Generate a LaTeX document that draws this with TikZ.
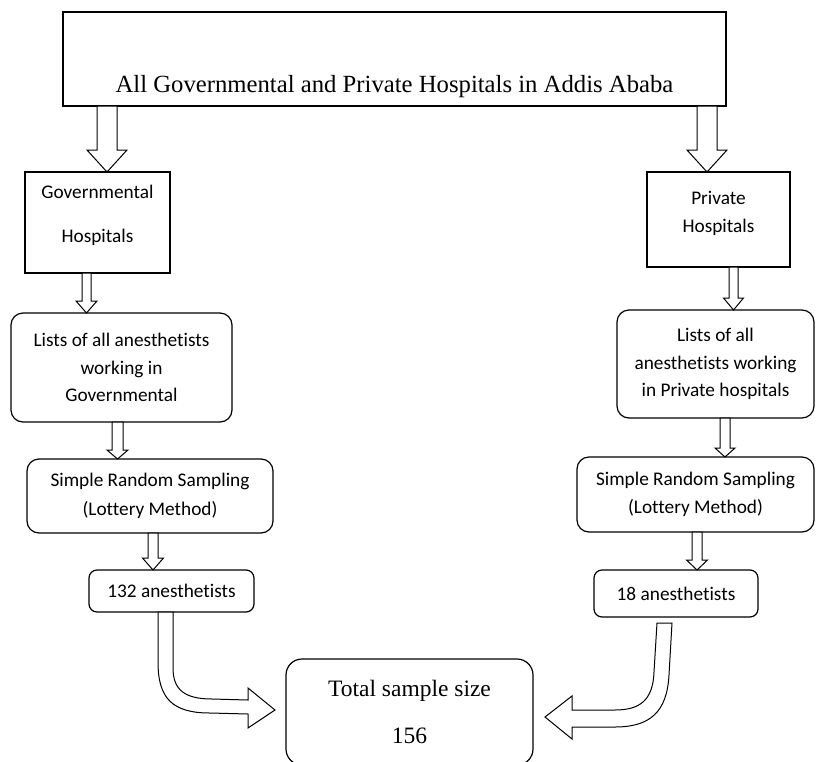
\documentclass[tikz,border=0pt]{standalone}
\usepackage{fontspec}
\setmainfont{Liberation Serif}
\newfontfamily\calib[Ligatures=NoCommon]{Carlito}
\usetikzlibrary{calc}

% hollow block arrow pointing down: x, from, to, half shaft, half head, head length
\newcommand{\blockdown}[6]{%
	\coordinate (bx) at (#1,0);
	\coordinate (bs) at (bx |- #2.south);
	\coordinate (be) at (bx |- #3.north);
	\draw[hollow] ($(bs)+(-#4,0)$) -- ($(be)+(-#4,-#6)$) -- ($(be)+(-#5,-#6)$) -- (be)
		-- ($(be)+(#5,-#6)$) -- ($(be)+(#4,-#6)$) -- ($(bs)+(#4,0)$) -- cycle;
}

\begin{document}
\begin{tikzpicture}[x=1pt,y=-1pt]
	\tikzset{box/.style = {draw, line width=1.2pt, inner sep=0pt, outer sep=0pt, align=center,
		font=\calib\fontsize{19.3}{27.5}\selectfont}}
	\tikzset{rbox/.style = {box, rounded corners=12pt}}
	\tikzset{hollow/.style = {draw, fill=white, line width=1pt, line join=miter}}
	\useasboundingbox (0,0) rectangle (817,761);

	\node[box, minimum width=663pt, minimum height=94pt, text height=76pt, text depth=10pt,
		font=\fontsize{24.7}{30}\selectfont] (all) at (394.5,59) {All Governmental and Private Hospitals in Addis Ababa};
	\node[box, minimum width=145pt, minimum height=101pt, text depth=17pt] (govh) at (97.5,222.5) {Governmental\\[16.5pt]Hospitals};
	\node[box, minimum width=143pt, minimum height=95pt, text depth=15pt] (privh) at (718.5,219.5) {Private\\Hospitals};
	\node[rbox, minimum width=221pt, minimum height=109pt] (govlist) at (121.5,367.5) {Lists of all anesthetists\\working in\\Governmental};
	\node[rbox, minimum width=197pt, minimum height=108pt] (privlist) at (715.5,364) {Lists of all\\anesthetists working\\in Private hospitals};
	\node[rbox, minimum width=246pt, minimum height=74pt] (govsrs) at (150,496) {Simple Random Sampling\\[2pt](Lottery Method)};
	\node[rbox, minimum width=237pt, minimum height=75pt] (privsrs) at (695.5,494.5) {Simple Random Sampling\\(Lottery Method)};
	\node[rbox, rounded corners=8pt, minimum width=165pt, minimum height=42pt] (gov132) at (171.5,591) {132 anesthetists};
	\node[rbox, rounded corners=8pt, minimum width=164pt, minimum height=47pt] (priv18) at (676,593.5) {18 anesthetists};
	\node[rbox, rounded corners=16pt, minimum width=247pt, minimum height=106pt,
		font=\fontsize{23.5}{47}\selectfont] (total) at (409.5,712) {Total sample size\\156};

	\blockdown{107}{all}{govh}{10}{20}{22}
	\blockdown{707}{all}{privh}{10}{20}{22}
	\blockdown{86.5}{govh}{govlist}{4.5}{10.5}{12}
	\blockdown{733.5}{privh}{privlist}{4.5}{10}{12}
	\blockdown{117.5}{govlist}{govsrs}{5.5}{10.5}{9}
	\blockdown{725}{privlist}{privsrs}{5}{10}{9}
	\blockdown{153}{govsrs}{gov132}{5}{10.5}{12}
	\blockdown{697}{privsrs}{priv18}{5}{10.5}{10}

	% bent arrows into the total
	\coordinate (ls) at ($(gov132.south)+(-6,0)$);
	\coordinate (lt) at ($(total.west)+(-11,-2)$);
	\draw[hollow] ($(ls)+(-7.5,0)$) -- ($(ls)+(-7.5,50)$)
		.. controls ($(ls)+(-7.5,86)$) and ($(ls)+(6.5,101)$) .. ($(ls)+(44.5,101)$)
		-- ($(lt)+(-27,4)$) -- ($(lt)+(-27,18)$) -- (lt) -- ($(lt)+(-27,-22)$) -- ($(lt)+(-27,-10)$)
		-- ($(ls)+(46.5,87)$) .. controls ($(ls)+(19.5,87)$) and ($(ls)+(7.5,78)$) .. ($(ls)+(7.5,56)$)
		-- ($(ls)+(7.5,0)$) -- cycle;
	\coordinate (rs) at ($(priv18.south)+(-11.5,6)$);
	\coordinate (rt) at ($(total.east)+(12,5)$);
	\draw[hollow] ($(rs)+(7.5,0)$) -- ($(rs)+(4.5,52)$)
		.. controls ($(rs)+(2.5,89)$) and ($(rs)+(-14.5,104)$) .. ($(rs)+(-49.5,104)$)
		-- ($(rt)+(27,10)$) -- ($(rt)+(27,22)$) -- (rt) -- ($(rt)+(27,-21)$) -- ($(rt)+(27,-7)$)
		-- ($(rs)+(-49.5,87)$) .. controls ($(rs)+(-24.5,87)$) and ($(rs)+(-11.5,77)$) .. ($(rs)+(-10.5,49)$)
		-- ($(rs)+(-7.5,0)$) -- cycle;
\end{tikzpicture}
\end{document}
